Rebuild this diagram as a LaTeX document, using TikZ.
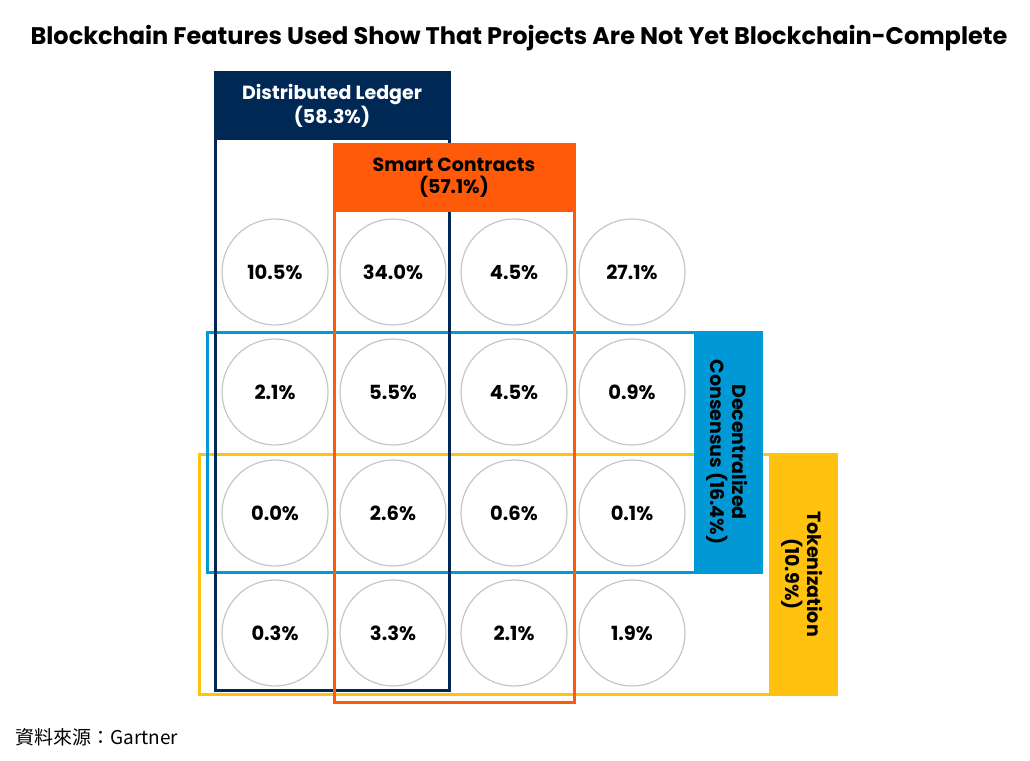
\documentclass[tikz,border=0pt]{standalone}
\usepackage{fontspec}
\setmainfont{Poppins}
\newfontfamily\cjkfont{Noto Sans CJK TC}
\definecolor{navy}{HTML}{002855}
\definecolor{orng}{HTML}{FF5A0A}
\definecolor{skyb}{HTML}{0099D6}
\definecolor{yell}{HTML}{FFC20E}
\definecolor{cgray}{HTML}{C6C6C6}
\begin{document}
\begin{tikzpicture}[x=1pt,y=-1pt,
  frame/.style={line width=3pt},
  cell/.style={circle,draw=cgray,line width=1.2pt,minimum size=106pt,inner sep=0pt,font=\fontsize{19.5}{21}\selectfont\bfseries},
  hdr/.style={font=\fontsize{19}{22}\selectfont\bfseries,align=center},
  vlab/.style={font=\fontsize{19}{22}\selectfont\bfseries,align=center,rotate=-90}]
\useasboundingbox (0,0) rectangle (1030,760);
\node[font=\fontsize{24}{28}\selectfont\bfseries] (title) at (519,38) {Blockchain Features Used Show That Projects Are Not Yet Blockchain-Complete};
% Tokenization
\fill[yell] (769,454) rectangle (836,694);
\draw[frame,yell] (199,454) rectangle (836,694);
\node[vlab] (tok) at (802.5,574) {Tokenization\\(10.9\%)};
% Decentralized consensus
\fill[skyb] (694,332) rectangle (761,572);
\draw[frame,skyb] (207,332) rectangle (761,572);
\node[vlab] (dec) at (727.5,452) {Decentralized\\Consensus (16.4\%)};
% Distributed ledger
\fill[navy] (215,72) rectangle (449,140);
\draw[frame,navy] (215,72) rectangle (449,690);
\node[hdr,text=white] (dl) at (332,106) {Distributed Ledger\\(58.3\%)};
% Smart contracts
\fill[orng] (334,144) rectangle (574,212);
\draw[frame,orng] (334,144) rectangle (574,702);
\node[hdr,text=black] (sc) at (454,178) {Smart Contracts\\(57.1\%)};
% circles
\node[cell] (c11) at (275,272) {10.5\%};
\node[cell] (c12) at (393,272) {34.0\%};
\node[cell] (c13) at (514,272) {4.5\%};
\node[cell] (c14) at (632,272) {27.1\%};
\node[cell] (c21) at (275,392) {2.1\%};
\node[cell] (c22) at (393,392) {5.5\%};
\node[cell] (c23) at (514,392) {4.5\%};
\node[cell] (c24) at (632,392) {0.9\%};
\node[cell] (c31) at (275,513) {0.0\%};
\node[cell] (c32) at (393,513) {2.6\%};
\node[cell] (c33) at (514,513) {0.6\%};
\node[cell] (c34) at (632,513) {0.1\%};
\node[cell] (c41) at (275,633) {0.3\%};
\node[cell] (c42) at (393,633) {3.3\%};
\node[cell] (c43) at (514,633) {2.1\%};
\node[cell] (c44) at (632,633) {1.9\%};
\node[anchor=west,font=\cjkfont\fontsize{19}{22}\selectfont] (src) at (12,737) {資料來源：Gartner};
\end{tikzpicture}
\end{document}
